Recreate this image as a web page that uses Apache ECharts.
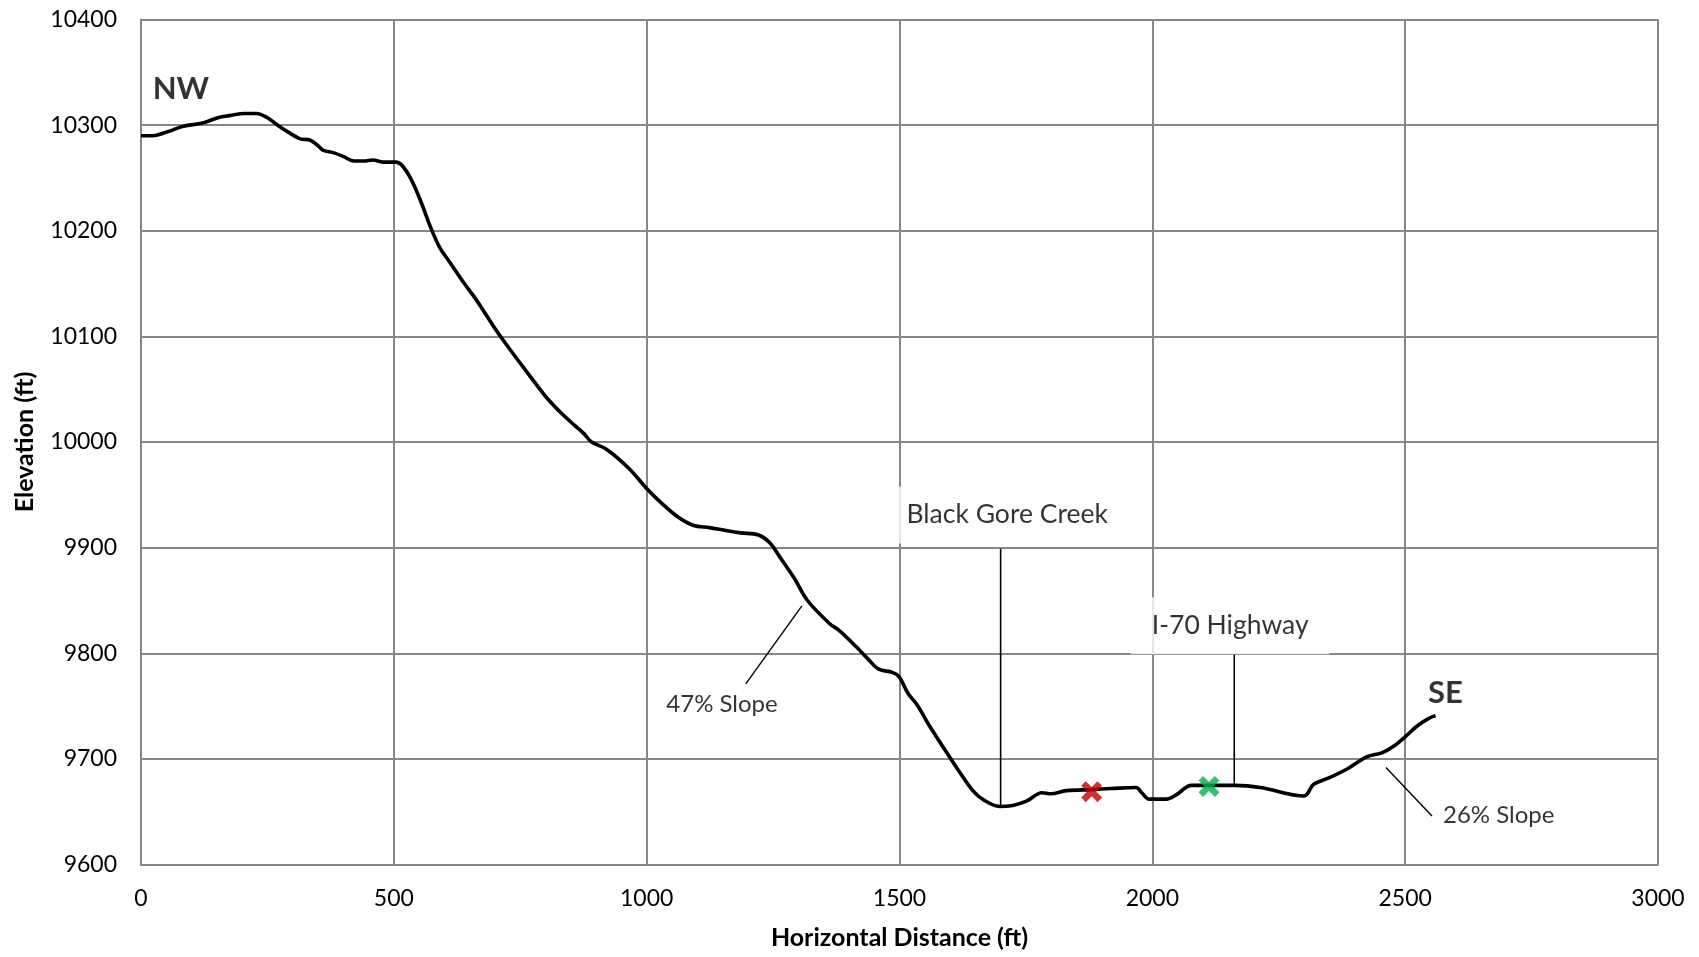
<!DOCTYPE html>
<html>
<head>
<meta charset="utf-8">
<title>Elevation profile NW–SE</title>
<script src="https://cdn.jsdelivr.net/npm/echarts@6/dist/echarts.min.js"></script>
<style>
  html, body { margin: 0; padding: 0; background: #fff; }
  #chart { width: 1699px; height: 957px; }
</style>
</head>
<body>
<div id="chart"></div>
<script>
// Ground profile: horizontal distance (ft) and elevation (ft)
const distanceFt = [
  0, 23, 54, 84, 122, 152, 175, 205, 228, 250, 273, 296, 315, 334, 349, 361, 380, 402, 421, 440,
  459, 478, 504, 516, 535, 554, 573, 592, 611, 638, 661, 675, 698, 720, 751, 781, 804, 834, 857, 876,
  891, 921, 965, 1000, 1023, 1062, 1093, 1124, 1159, 1186, 1221, 1243, 1265, 1292, 1318, 1362, 1380,
  1415, 1437, 1459, 1486, 1499, 1517, 1535, 1561, 1592, 1614, 1645, 1667, 1698, 1724, 1751, 1782,
  1799, 1830, 1880, 1919, 1968, 1979, 1994, 2028, 2047, 2077, 2111, 2164, 2213, 2300, 2319, 2349,
  2387, 2424, 2455, 2477, 2500, 2523, 2545, 2560
];
const elevationFt = [
  10290, 10290, 10294, 10299, 10302, 10307, 10309, 10311, 10311, 10307, 10299, 10292, 10287, 10286,
  10281, 10276, 10274, 10270, 10266, 10266, 10267, 10265, 10265, 10262, 10248, 10227, 10203, 10183,
  10170, 10151, 10136, 10126, 10109, 10094, 10074, 10055, 10041, 10026, 10016, 10008, 10000, 9993,
  9975, 9956, 9945, 9929, 9921, 9919, 9916, 9914, 9912, 9905, 9890, 9871, 9850, 9828, 9822, 9806,
  9795, 9785, 9782, 9778, 9762, 9751, 9730, 9707, 9691, 9670, 9661, 9655, 9656, 9660, 9668, 9667,
  9670, 9671, 9672, 9673, 9668, 9662, 9662, 9666, 9675, 9675, 9675, 9673, 9665, 9676, 9682, 9691,
  9702, 9706, 9712, 9721, 9731, 9738, 9741
];

// Point markers on the profile
const redMarker = [1880, 9669];
const greenMarker = [2112, 9674];

// Callout labels (boxed) and their leader lines
const calloutText = ['Black Gore Creek', 'I-70 Highway'];
const calloutAt = [[1713, 9931], [2154, 9826]];
const calloutLeaders = [
  [[1700, 9899], [1700, 9656]],
  [[2162, 9799], [2162, 9676]]
];

// Slope labels and their pointer lines
const slopeText = ['47% Slope', '26% Slope'];
const slopeAt = [[1149, 9752], [2685, 9647]];
const slopeLeaders = [
  [[1307, 9845], [1196, 9771]],
  [[2462, 9692], [2553, 9646]]
];

// Direction labels at each end of the profile
const endText = ['NW', 'SE'];
const endAt = [[23, 10334], [2545, 9762]];

// Axis ranges
const xMin = 0, xMax = 3000, xStep = 500;
const yMin = 9600, yMax = 10400, yStep = 100;

const FONT = 'Lato, "Open Sans", sans-serif';
const GRID_COLOR = '#878787';

const xMarkPath = 'path://M2.2,0 L5,2.8 L7.8,0 L10,2.2 L7.2,5 L10,7.8 L7.8,10 L5,7.2 L2.2,10 L0,7.8 L2.8,5 L0,2.2 Z';

const profile = distanceFt.map((d, i) => [d, elevationFt[i]]);

const leaderSeries = (pts, width) => pts.map(seg => ({
  type: 'line',
  data: seg,
  symbol: 'none',
  silent: true,
  lineStyle: { color: '#000', width: width },
  z: 3
}));

const chart = echarts.init(document.getElementById('chart'), null, { renderer: 'canvas' });

chart.setOption({
  animation: false,
  backgroundColor: '#fff',
  grid: {
    left: 141, right: 41, top: 19.5, bottom: 92.4,
    containLabel: false,
    outerBoundsMode: 'none'
  },
  xAxis: {
    type: 'value',
    min: xMin, max: xMax, interval: xStep,
    name: 'Horizontal Distance (ft)',
    nameLocation: 'middle',
    nameGap: 61,
    nameTextStyle: { fontFamily: FONT, fontWeight: 'bold', fontSize: 25, color: '#000' },
    axisLine: { show: true, lineStyle: { color: GRID_COLOR, width: 2 } },
    axisTick: { show: false },
    axisLabel: { fontFamily: FONT, fontSize: 23, color: '#000', margin: 22, formatter: v => String(v) },
    splitLine: { show: true, lineStyle: { color: GRID_COLOR, width: 2 } }
  },
  yAxis: {
    type: 'value',
    min: yMin, max: yMax, interval: yStep,
    name: 'Elevation (ft)',
    nameLocation: 'middle',
    nameGap: 104,
    nameTextStyle: { fontFamily: FONT, fontWeight: 'bold', fontSize: 25, color: '#000' },
    axisLine: { show: true, lineStyle: { color: GRID_COLOR, width: 2 } },
    axisTick: { show: false },
    axisLabel: { fontFamily: FONT, fontSize: 23, color: '#000', margin: 24, formatter: v => String(v) },
    splitLine: { show: true, lineStyle: { color: GRID_COLOR, width: 2 } }
  },
  series: [
    {
      type: 'line',
      name: 'Profile',
      data: profile,
      symbol: 'none',
      smooth: 0.35,
      lineStyle: { color: '#000', width: 3.6 },
      z: 4
    },
    ...leaderSeries(calloutLeaders, 1.6),
    ...leaderSeries(slopeLeaders, 1.4),
    {
      type: 'scatter',
      data: [redMarker],
      symbol: xMarkPath,
      symbolSize: 21,
      itemStyle: { color: '#C00000' },
      z: 6
    },
    {
      type: 'scatter',
      data: [greenMarker],
      symbol: xMarkPath,
      symbolSize: 21,
      itemStyle: { color: '#00B050' },
      z: 6
    },
    {
      // boxed callouts
      type: 'scatter',
      data: calloutAt.map((p, i) => ({ value: p, name: calloutText[i] })),
      symbolSize: 1,
      itemStyle: { color: 'rgba(0,0,0,0)' },
      silent: true,
      z: 5,
      label: {
        show: true,
        position: 'inside',
        formatter: p => p.name,
        fontFamily: FONT,
        fontSize: 26.5,
        lineHeight: 29,
        color: '#000',
        textBorderWidth: 0,
        backgroundColor: '#fff',
        padding: [14, 21]
      }
    },
    {
      // slope annotations
      type: 'scatter',
      data: slopeAt.map((p, i) => ({ value: p, name: slopeText[i] })),
      symbolSize: 1,
      itemStyle: { color: 'rgba(0,0,0,0)' },
      silent: true,
      z: 5,
      label: {
        show: true,
        position: 'inside',
        formatter: p => p.name,
        fontFamily: FONT,
        fontSize: 24,
        color: '#000',
        textBorderWidth: 0
      }
    },
    {
      // NW / SE end labels
      type: 'scatter',
      data: endAt.map((p, i) => ({ value: p, name: endText[i] })),
      symbolSize: 1,
      itemStyle: { color: 'rgba(0,0,0,0)' },
      silent: true,
      z: 5,
      label: {
        show: true,
        position: 'inside',
        align: 'left',
        verticalAlign: 'middle',
        formatter: p => p.name,
        fontFamily: FONT,
        fontWeight: 'bold',
        fontSize: 31,
        color: '#000',
        textBorderWidth: 0
      }
    }
  ]
});
</script>
</body>
</html>
